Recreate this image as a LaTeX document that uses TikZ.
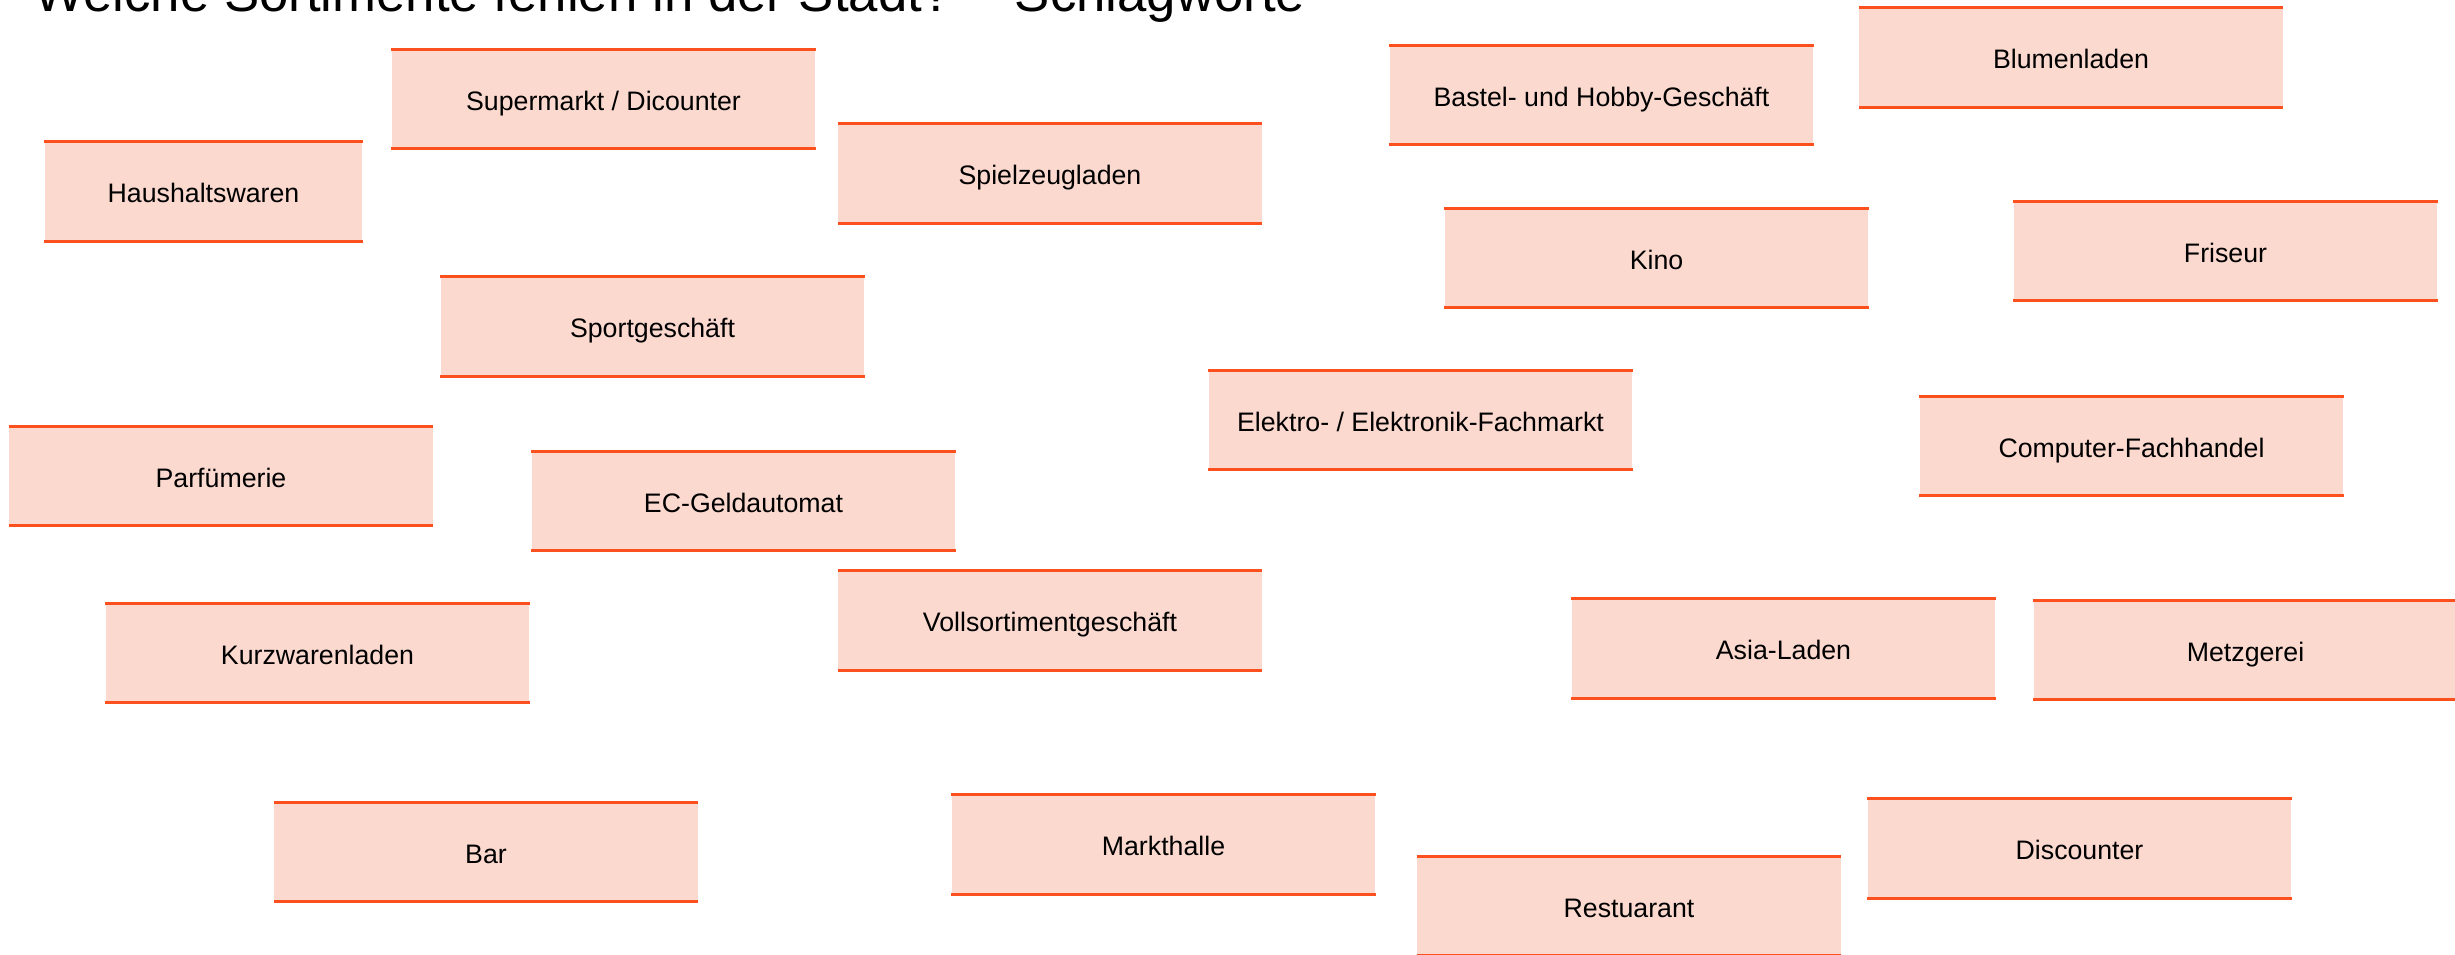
\documentclass[tikz,border=0pt]{standalone}
\usepackage{fontspec}
\setmainfont{Liberation Sans}
\usetikzlibrary{positioning}

\definecolor{tagfill}{RGB}{251,217,207}
\definecolor{tagline}{RGB}{252,80,30}

\begin{document}
\begin{tikzpicture}[x=0.01cm,y=-0.01cm,
    tag/.style={fill=tagfill,minimum width=4.23cm,minimum height=0.98cm,
      inner sep=0pt,text height=6.4pt,text depth=0pt,
      font=\fontsize{7.6}{9}\selectfont,
      append after command={
        (\tikzlastnode.north west) edge[tagedge] (\tikzlastnode.north east)
        (\tikzlastnode.south west) edge[tagedge] (\tikzlastnode.south east)}},
    tagedge/.style={draw=tagline,line width=0.9pt}]
  \useasboundingbox (0,0) rectangle (2455,954);
  \clip (0,0) rectangle (2455,954);

  \node[anchor=base west,inner sep=0pt,font=\fontsize{15}{18}\selectfont]
    (titel) at (34,11) {Welche Sortimente fehlen in der Stadt? – Schlagworte};

  \node[tag] (supermarkt) at (603.5,99) {Supermarkt / Dicounter};
  \node[tag,minimum width=3.17cm] (haushalt) at (203.5,191.5) {Haushaltswaren};
  \node[tag] (spielzeug) at (1050,173.5) {Spielzeugladen};
  \node[tag] (bastel) at (1601.5,95) {Bastel- und Hobby-Geschäft};
  \node[tag] (blumen) at (2071,57.5) {Blumenladen};
  \node[tag] (kino) at (1656.5,258) {Kino};
  \node[tag] (friseur) at (2225.5,251) {Friseur};
  \node[tag] (sport) at (652.5,326.5) {Sportgeschäft};
  \node[tag] (elektro) at (1420.5,420) {Elektro- / Elektronik-Fachmarkt};
  \node[tag] (computer) at (2131.5,446) {Computer-Fachhandel};
  \node[tag] (parfum) at (221,476) {Parfümerie};
  \node[tag] (geld) at (743.5,501) {EC-Geldautomat};
  \node[tag] (kurzwaren) at (317.5,653) {Kurzwarenladen};
  \node[tag] (voll) at (1050,620.5) {Vollsortimentgeschäft};
  \node[tag] (asia) at (1783.5,648.5) {Asia-Laden};
  \node[tag] (metzger) at (2245.5,650) {Metzgerei};
  \node[tag] (bar) at (486,852) {Bar};
  \node[tag] (markthalle) at (1163.5,844.5) {Markthalle};
  \node[tag] (restaurant) at (1629,906) {Restuarant};
  \node[tag] (discounter) at (2079.5,848.5) {Discounter};
\end{tikzpicture}
\end{document}
